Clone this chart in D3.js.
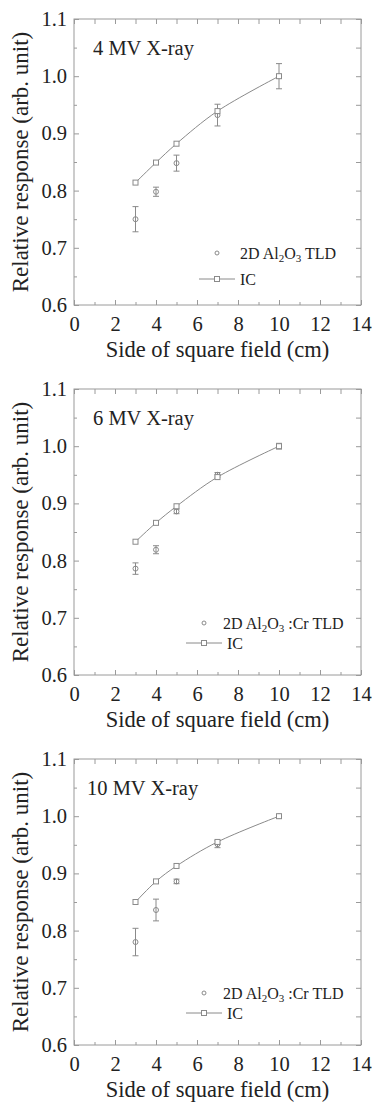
<!DOCTYPE html>
<html>
<head>
<meta charset="utf-8">
<script src="https://cdn.jsdelivr.net/npm/d3@7"></script>
<style>
  body { margin: 0; background: #fff; }
  svg text { font-family: "Liberation Serif", "DejaVu Serif", serif; fill: #222; }
</style>
</head>
<body>
<svg id="chart" width="372" height="1108"></svg>
<script>
// field sizes (cm)
var fieldSizes = [3, 4, 5, 7, 10]

// panel titles and legend labels
var panelTitles = ['4 MV X-ray', '6 MV X-ray', '10 MV X-ray']
var tldLabels = [' TLD', ' :Cr TLD', ' :Cr TLD']

// ionisation chamber, relative response
var ic4 = [0.814, 0.849, 0.882, 0.939, 1.0]
var ic6 = [0.833, 0.866, 0.895, 0.946, 1.0]
var ic10 = [0.850, 0.886, 0.913, 0.955, 1.0]

// 2D TLD, relative response and error
var tld4 = [0.750, 0.798, 0.848, 0.932, 1.0]
var tld4Err = [0.022, 0.008, 0.014, 0.019, 0.022]
var tld6 = [0.786, 0.819, 0.886, 0.950, 1.0]
var tld6Err = [0.010, 0.007, 0.004, 0.004, 0.005]
var tld10 = [0.780, 0.836, 0.886, 0.951, 1.0]
var tld10Err = [0.024, 0.019, 0.004, 0.006, 0.002]

// axis ticks
var xMajor = [0, 2, 4, 6, 8, 10, 12, 14]
var xMinor = [1, 3, 5, 7, 9, 11, 13]
var yMajor = [0.6, 0.7, 0.8, 0.9, 1.0, 1.1]
var yMinor = [0.65, 0.75, 0.85, 0.95, 1.05]

var panels = [
  {title: panelTitles[0], ic: ic4, tld: tld4, err: tld4Err, tldLabel: tldLabels[0], titleX: 93, legendX: 217, legendTextX: 240, legendY: 253, legendIcY: 279, icTextX: 240},
  {title: panelTitles[1], ic: ic6, tld: tld6, err: tld6Err, tldLabel: tldLabels[1], titleX: 93, legendX: 204, legendTextX: 223, legendY: 253, legendIcY: 273, icTextX: 227},
  {title: panelTitles[2], ic: ic10, tld: tld10, err: tld10Err, tldLabel: tldLabels[2], titleX: 87, legendX: 204, legendTextX: 223, legendY: 253, legendIcY: 273, icTextX: 227}
]

var markColor = '#8a8a8a'
var frameColor = '#9a9a9a'

var svg = d3.select('#chart')

var plotLeft = 74
var plotRight = 361
var plotTop = 19
var plotBottom = 305

var x = d3.scaleLinear().domain([0, 14]).range([plotLeft, plotRight])
var y = d3.scaleLinear().domain([0.6, 1.1]).range([plotBottom, plotTop])

panels.forEach(function (p, i) {
  var g = svg.append('g').attr('transform', `translate(0,${i * 370})`)

  var fmt = d3.format('.1f')

  // inward ticks on all four sides
  function tickAxis (axis, values, size, labels, transform) {
    var a = axis.tickValues(values).tickSizeInner(-size).tickSizeOuter(0)
    if (!labels) a.tickFormat('')
    var ax = g.append('g').attr('transform', transform).call(a)
    ax.select('.domain').remove()
    ax.selectAll('.tick line').attr('stroke', frameColor)
    return ax
  }

  var bx = tickAxis(d3.axisBottom(x).tickFormat(d3.format('d')), xMajor, 5, true, `translate(0,${plotBottom})`)
  bx.selectAll('.tick text').attr('y', 11).style('font-size', '20.5px').attr('fill', '#222')
  tickAxis(d3.axisBottom(x), xMinor, 3, false, `translate(0,${plotBottom})`)
  tickAxis(d3.axisTop(x), xMajor.concat(xMinor), 5, false, `translate(0,${plotTop})`)

  var ly = tickAxis(d3.axisLeft(y).tickFormat(fmt), yMajor, 5, true, `translate(${plotLeft},0)`)
  ly.selectAll('.tick text').attr('x', -7).style('font-size', '20.5px').attr('fill', '#222')
  tickAxis(d3.axisLeft(y), yMinor, 3, false, `translate(${plotLeft},0)`)
  tickAxis(d3.axisRight(y), yMajor.concat(yMinor), 5, false, `translate(${plotRight},0)`)

  g.append('rect')
    .attr('x', plotLeft).attr('y', plotTop)
    .attr('width', plotRight - plotLeft).attr('height', plotBottom - plotTop)
    .attr('fill', 'none').attr('stroke', frameColor)

  // axis titles
  g.append('text')
    .attr('x', (plotLeft + plotRight) / 2).attr('y', 357)
    .attr('text-anchor', 'middle')
    .style('font-size', '22.5px')
    .text('Side of square field (cm)')

  g.append('text')
    .attr('transform', `translate(28,${(plotTop + plotBottom) / 2}) rotate(-90)`)
    .attr('text-anchor', 'middle')
    .style('font-size', '23px')
    .text('Relative response (arb. unit)')

  g.append('text')
    .attr('x', p.titleX).attr('y', 55)
    .style('font-size', '20.5px')
    .text(p.title)

  // IC line
  var line = d3.line()
    .x(function (d, j) { return x(fieldSizes[j]) })
    .y(function (d) { return y(d) })
    .curve(d3.curveCatmullRom)

  g.append('path')
    .attr('d', line(p.ic))
    .attr('fill', 'none')
    .attr('stroke', markColor)
    .attr('stroke-width', 1)

  // TLD error bars
  var eb = g.append('g').attr('stroke', markColor).attr('stroke-width', 1)
  p.tld.forEach(function (v, j) {
    var cx = x(fieldSizes[j])
    var y0 = y(v - p.err[j])
    var y1 = y(v + p.err[j])
    eb.append('line').attr('x1', cx).attr('x2', cx).attr('y1', y0).attr('y2', y1)
    eb.append('line').attr('x1', cx - 3).attr('x2', cx + 3).attr('y1', y0).attr('y2', y0)
    eb.append('line').attr('x1', cx - 3).attr('x2', cx + 3).attr('y1', y1).attr('y2', y1)
  })

  g.selectAll('.tld')
    .data(p.tld)
    .join('circle')
    .attr('class', 'tld')
    .attr('cx', function (d, j) { return x(fieldSizes[j]) })
    .attr('cy', function (d) { return y(d) })
    .attr('r', 2.5)
    .attr('fill', 'none')
    .attr('stroke', markColor)

  g.selectAll('.icpt')
    .data(p.ic)
    .join('rect')
    .attr('class', 'icpt')
    .attr('x', function (d, j) { return x(fieldSizes[j]) - 2.5 })
    .attr('y', function (d) { return y(d) - 2.5 })
    .attr('width', 5).attr('height', 5)
    .attr('fill', '#fff')
    .attr('stroke', markColor)

  // legend
  g.append('circle')
    .attr('cx', p.legendX).attr('cy', p.legendY).attr('r', 2)
    .attr('fill', 'none').attr('stroke', markColor)

  var t = g.append('text')
    .attr('x', p.legendTextX).attr('y', p.legendY + 6)
    .style('font-size', '16px')
  t.append('tspan').text('2D Al')
  t.append('tspan').attr('dy', 3).style('font-size', '11px').text('2')
  t.append('tspan').attr('dy', -3).text('O')
  t.append('tspan').attr('dy', 3).style('font-size', '11px').text('3')
  t.append('tspan').attr('dy', -3).text(p.tldLabel)

  g.append('line')
    .attr('x1', p.legendX - 18).attr('x2', p.legendX + 18)
    .attr('y1', p.legendIcY).attr('y2', p.legendIcY)
    .attr('stroke', markColor)
  g.append('rect')
    .attr('x', p.legendX - 2.5).attr('y', p.legendIcY - 2.5)
    .attr('width', 5).attr('height', 5)
    .attr('fill', '#fff').attr('stroke', markColor)
  g.append('text')
    .attr('x', p.icTextX).attr('y', p.legendIcY + 6)
    .style('font-size', '16px')
    .text('IC')
})
</script>
</body>
</html>
